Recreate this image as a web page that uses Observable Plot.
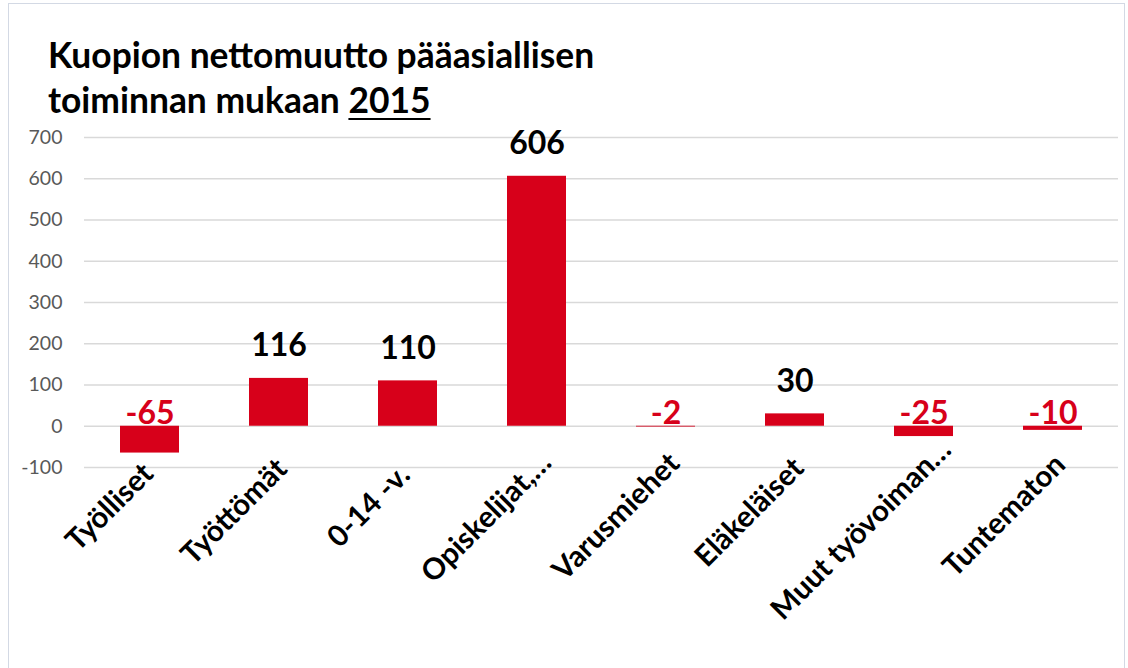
<!DOCTYPE html>
<html>
<head>
<meta charset="utf-8">
<script src="https://cdn.jsdelivr.net/npm/d3@7"></script>
<script src="https://cdn.jsdelivr.net/npm/@observablehq/plot@0.6"></script>
<style>
  html, body { margin: 0; padding: 0; background: #fff; }
  #wrap { position: relative; width: 1128px; height: 668px; overflow: hidden; font-family: Lato, "Open Sans", sans-serif; }
  #frame { position: absolute; left: 8px; top: 3px; width: 1117px; height: 700px; border: 1.5px solid #d3d9e4; box-sizing: border-box; }
  #title { position: absolute; left: 48px; top: 32px; font-size: 35.4px; font-weight: bold; line-height: 45px; color: #000; }
  #title u { text-decoration-thickness: 2px; text-underline-offset: 5px; }
  #chart { position: absolute; left: 0; top: 0; }
</style>
</head>
<body>
<div id="wrap">
  <div id="frame"></div>
  <div id="chart"></div>
  <div id="title">Kuopion nettomuutto pääasiallisen<br>toiminnan mukaan <u>2015</u></div>
</div>
<script>
const categories = ["Työlliset", "Työttömät", "0-14 -v.", "Opiskelijat,…", "Varusmiehet", "Eläkeläiset", "Muut työvoiman…", "Tuntematon"];
const values = [-65, 116, 110, 606, -2, 30, -25, -10];
const yTicks = [-100, 0, 100, 200, 300, 400, 500, 600, 700];

const data = categories.map((c, i) => ({cat: c, value: values[i]}));
const pos = data.filter(d => d.value >= 0);
const neg = data.filter(d => d.value < 0);
const red = "#d7001a";
const font = "Lato, 'Open Sans', sans-serif";
const labelSize = 29.5;

// measure label lengths to reproduce Excel's placement of rotated category labels
const ctx = document.createElement("canvas").getContext("2d");
ctx.font = `bold ${labelSize}px Lato`;
const labelShift = c => 0.183 * ctx.measureText(c).width - 15;

const labelMarks = categories.map(c => {
  const s = labelShift(c);
  return Plot.text([c], {x: d => d, y: () => -100, text: d => d, rotate: -45, textAnchor: "end", lineAnchor: "bottom", dx: s, dy: 13 - s, fontSize: labelSize, fontWeight: "bold", fill: "#000"});
});

const chart = Plot.plot({
  width: 1128,
  height: 668,
  marginTop: 137,
  marginBottom: 201,
  marginLeft: 84,
  marginRight: 10,
  style: {fontFamily: font, background: "transparent"},
  x: {domain: categories, paddingInner: 0.54, paddingOuter: 0.27, label: null, axis: null},
  y: {domain: [-100, 700], label: null},
  marks: [
    Plot.gridY(yTicks, {stroke: "#d9d9d9", strokeOpacity: 1, strokeWidth: 1.5}),
    Plot.axisY(yTicks, {tickSize: 0, tickPadding: 22, fontSize: 19.5, fill: "#595959", tickFormat: d => String(d), label: null}),
    Plot.barY(data, {x: "cat", y: "value", fill: red}),
    Plot.text(pos, {x: "cat", y: "value", text: d => String(d.value), dy: -22, lineAnchor: "bottom", fontSize: 32, fontWeight: "bold", fill: "#000"}),
    Plot.text(neg, {x: "cat", y: () => 0, text: d => String(d.value), dy: -2, lineAnchor: "bottom", fontSize: 32, fontWeight: "bold", fill: red}),
    ...labelMarks
  ]
});
document.getElementById("chart").appendChild(chart);
</script>
</body>
</html>
